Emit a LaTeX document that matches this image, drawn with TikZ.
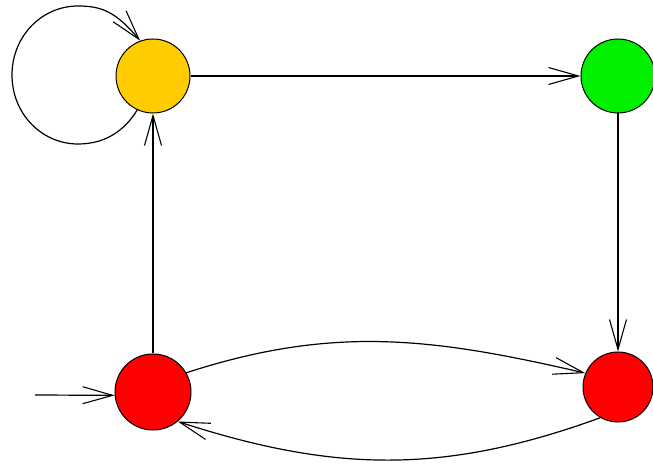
\documentclass[tikz,border=0pt]{standalone}
\usepackage{xcolor}
\usetikzlibrary{arrows.meta,positioning,calc}
\definecolor{stategold}{HTML}{FFCC00}
\definecolor{stategreen}{HTML}{00F000}
\definecolor{statered}{HTML}{FF0000}

\begin{document}
\begin{tikzpicture}[x=1pt, y=1pt, >={Straight Barb[length=30pt, width=17pt, line width=1.1pt]}]
        \tikzset{
            state/.style={draw, circle, inner sep=0pt, line width=1pt},
            link/.style={->, line width=1.2pt},
            init/.style={coordinate},
        }
        \useasboundingbox (0,0) rectangle (653,466);

        % States
        \node [state, fill=stategold, minimum size=74pt] (top) at (153,390) {};
        \node [state, fill=stategreen, minimum size=74pt] (goal) at (618,390) {};
        \node [state, fill=statered, minimum size=76pt] (start) at (153,74) {};
        \node [state, fill=statered, minimum size=70pt] (sink) at (618,79) {};

        % Entry point
        \coordinate (entry) at (35,71);

        % Connections
        \draw [link] (entry) -- (start.185);
        \draw [link] (start.north) -- (top.south);
        \draw [link, line width=2pt] (top.east) -- (goal.west);
        \draw [link] (goal.south) -- (sink.north);
        \draw [link] (start.30) to[out=18, in=167] (sink.157);
        \draw [link] (sink.240) to[out=200, in=-18] (start.-50);

        % Self loop
        \draw [link] (top.245) .. controls (125,336) and (106,322) .. (78,322)
            .. controls (42,322) and (12,352) .. (12,391)
            .. controls (12,430) and (42,460) .. (78,460)
            .. controls (102,460) and (116,454) .. (top.110);
    \end{tikzpicture}
\end{document}
